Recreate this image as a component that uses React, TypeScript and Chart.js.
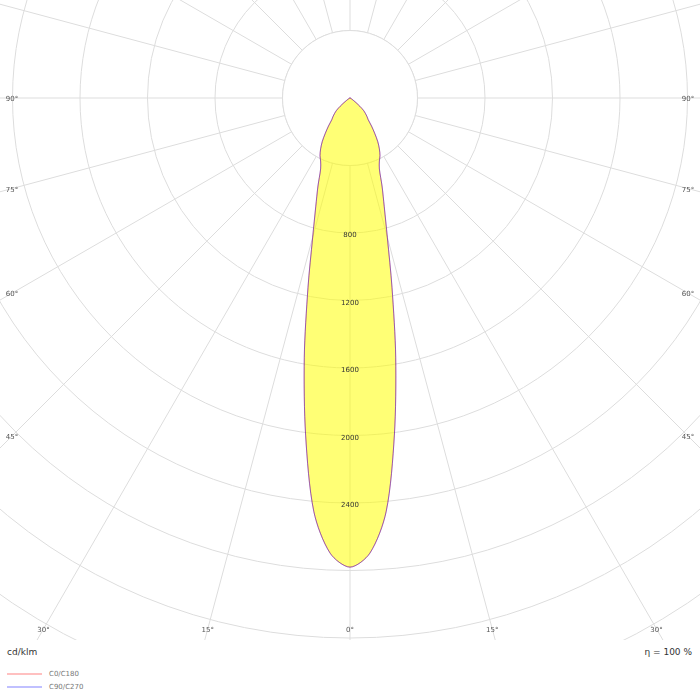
import { useEffect, useRef } from "react";
import { Chart, registerables } from "chart.js";

Chart.register(...registerables);

// gamma angle in degrees (0 = straight down), one half-plane, 2.5° steps
const gammaAngles = [
  0, 2.5, 5, 7.5, 10, 12.5, 15, 17.5, 20, 22.5, 25, 27.5, 30, 32.5, 35, 37.5,
  40, 42.5, 45, 47.5, 50, 52.5, 55, 57.5, 60, 62.5, 65, 67.5, 70, 72.5, 75,
  77.5, 80, 82.5, 85, 87.5, 90, 92.5, 95, 97.5, 100, 102.5, 105, 107.5, 110,
  112.5, 115, 117.5, 120, 122.5, 125, 127.5, 130, 132.5, 135, 137.5, 140,
  142.5, 145, 147.5, 150, 152.5, 155, 157.5, 160, 162.5, 165, 167.5, 170,
  172.5, 175, 177.5, 180,
];

// cd/klm
const c0c180 = [
  2780, 2700, 2460, 2015, 1560, 1150, 855, 675, 555, 455, 412, 385, 348, 306,
  255, 210, 168, 149, 129, 109, 76, 45, 25, 15, 10, 8, 6, 6, 5, 5, 5, 4, 4, 4,
  4, 4, 4, 0, 0, 0, 0, 0, 0, 0, 0, 0, 0, 0, 0, 0, 0, 0, 0, 0, 0, 0, 0, 0, 0, 0,
  0, 0, 0, 0, 0, 0, 0, 0, 0, 0, 0, 0, 0,
];
const c90c270 = [
  2780, 2700, 2460, 2015, 1560, 1150, 855, 675, 555, 455, 412, 385, 348, 306,
  255, 210, 168, 149, 129, 109, 76, 45, 25, 15, 10, 8, 6, 6, 5, 5, 5, 4, 4, 4,
  4, 4, 4, 0, 0, 0, 0, 0, 0, 0, 0, 0, 0, 0, 0, 0, 0, 0, 0, 0, 0, 0, 0, 0, 0, 0,
  0, 0, 0, 0, 0, 0, 0, 0, 0, 0, 0, 0, 0,
];

const radialLabels = [800, 1200, 1600, 2000, 2400];
const angleLabels = [0, 15, 30, 45, 60, 75, 90];

const GRID = "#dddddd";
const CANVAS_SIZE = 1350;
const CENTER_X = 350;
const CENTER_Y = 98;

// mirror one half-plane onto the full circle (index 0 at the bottom)
const mirror = (half: number[]) => half.concat(half.slice(1, -1).reverse());

const polarOverlay = {
  id: "polarOverlay",
  beforeDatasetsDraw(chart: any) {
    const r = chart.scales.r;
    const ctx = chart.ctx;
    const inner = r.getDistanceFromCenterForValue(400);
    ctx.save();
    ctx.beginPath();
    ctx.arc(r.xCenter, r.yCenter, inner, 0, Math.PI * 2);
    ctx.fillStyle = "#ffffff";
    ctx.fill();
    ctx.strokeStyle = GRID;
    ctx.lineWidth = 1;
    ctx.stroke();
    ctx.restore();
  },
  afterDatasetsDraw(chart: any) {
    const r = chart.scales.r;
    const ctx = chart.ctx;
    ctx.save();
    ctx.textAlign = "center";
    ctx.textBaseline = "middle";

    ctx.font = '7px "DejaVu Sans"';
    ctx.fillStyle = "#333333";
    radialLabels.forEach((v) => {
      ctx.fillText(String(v), r.xCenter, r.yCenter + r.getDistanceFromCenterForValue(v) + 2.5);
    });

    // angle labels sit where each ray meets the inner frame of the plot
    const left = r.xCenter - CENTER_X;
    const top = r.yCenter - CENTER_Y;
    const xMin = left + 12;
    const xMax = left + 688;
    const yMax = top + 629;
    ctx.fillStyle = "#555555";
    angleLabels.forEach((g) => {
      const sides = g === 0 ? [1] : [-1, 1];
      sides.forEach((side) => {
        const a = (g * Math.PI) / 180;
        const dx = side * Math.sin(a);
        const dy = Math.cos(a);
        let t = Infinity;
        if (Math.abs(dx) > 1e-9) t = Math.min(t, ((dx > 0 ? xMax : xMin) - r.xCenter) / dx);
        if (dy > 1e-9) t = Math.min(t, (yMax - r.yCenter) / dy);
        ctx.fillText(`${g}°`, r.xCenter + t * dx, r.yCenter + t * dy + 1.5);
      });
    });
    ctx.restore();
  },
};

const PolarDiagram = () => {
  const chartRef = useRef<HTMLCanvasElement | null>(null);
  const chartInstance = useRef<Chart | null>(null);

  useEffect(() => {
    if (chartInstance.current) chartInstance.current.destroy();
    const canvas = chartRef.current;
    if (!canvas) return;
    const ctx = canvas.getContext("2d");
    if (!ctx) return;

    chartInstance.current = new Chart(ctx, {
      type: "radar",
      data: {
        labels: mirror(gammaAngles).map(String),
        datasets: [
          {
            label: "C0/C180",
            data: mirror(c0c180),
            borderColor: "rgba(255, 0, 0, 0.4)",
            borderWidth: 1,
            backgroundColor: "rgba(255, 255, 0, 0.54)",
            fill: true,
            pointRadius: 0,
            tension: 0.3,
            order: 1,
          },
          {
            label: "C90/C270",
            data: mirror(c90c270),
            borderColor: "rgba(0, 0, 255, 0.4)",
            borderWidth: 1,
            fill: false,
            pointRadius: 0,
            tension: 0.3,
            order: 0,
          },
        ],
      },
      options: {
        responsive: false,
        animation: false,
        layout: { padding: 0 },
        plugins: {
          legend: { display: false },
          tooltip: { enabled: false },
        },
        scales: {
          r: {
            min: 0,
            max: 4000,
            startAngle: 180,
            ticks: { display: false, stepSize: 400 },
            pointLabels: { display: false },
            grid: { circular: true, color: GRID, lineWidth: 1 },
            angleLines: {
              color: GRID,
              lineWidth: (c: any) => (c.index % 6 === 0 ? 1 : 0),
            },
          },
        },
      },
      plugins: [polarOverlay],
    });

    const r: any = chartInstance.current.scales.r;
    canvas.style.left = `${CENTER_X - r.xCenter}px`;
    canvas.style.top = `${CENTER_Y - r.yCenter}px`;

    return () => {
      if (chartInstance.current) {
        chartInstance.current.destroy();
        chartInstance.current = null;
      }
    };
  }, []);

  return (
    <div style={{ position: "absolute", left: 0, top: 0, width: 700, height: 640, overflow: "hidden" }}>
      <canvas
        ref={chartRef}
        width={CANVAS_SIZE}
        height={CANVAS_SIZE}
        style={{ position: "absolute", left: 0, top: 0 }}
      ></canvas>
    </div>
  );
};

const legendRow = (top: number, color: string, text: string) => (
  <div style={{ position: "absolute", left: 7, top, height: 10, display: "flex", alignItems: "center" }}>
    <div style={{ width: 35, height: 2, background: color, marginRight: 7 }}></div>
    <span style={{ fontSize: 7, color: "#777777", lineHeight: "10px" }}>{text}</span>
  </div>
);

export default function App() {
  return (
    <div
      style={{
        position: "absolute",
        left: 0,
        top: 0,
        width: 700,
        height: 700,
        background: "#ffffff",
        fontFamily: '"DejaVu Sans", sans-serif',
        color: "#333333",
      }}
    >
      <PolarDiagram />
      <div style={{ position: "absolute", left: 7, top: 647, fontSize: 9, lineHeight: "10px" }}>cd/klm</div>
      <div style={{ position: "absolute", right: 8, top: 647, fontSize: 9, lineHeight: "10px" }}>η = 100 %</div>
      {legendRow(669, "#ffc0c0", "C0/C180")}
      {legendRow(682, "#c0c0ff", "C90/C270")}
    </div>
  );
}
